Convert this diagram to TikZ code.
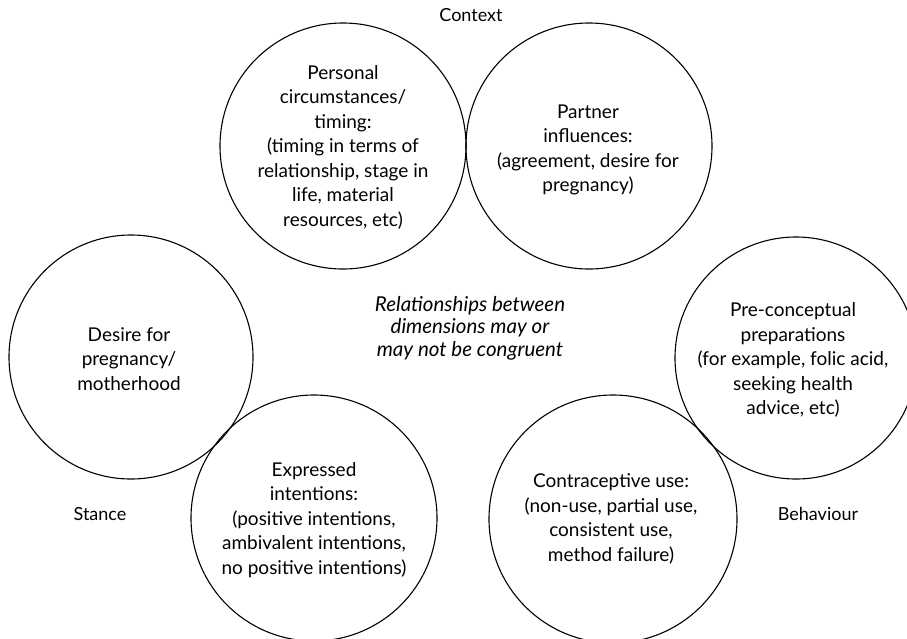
\documentclass[tikz,border=0pt]{standalone}
\usepackage{fontspec}
\setmainfont{Lato}
\begin{document}
\begin{tikzpicture}[x=1pt,y=-1pt,
  circ/.style={draw=black, line width=1.1pt, circle, inner sep=0pt, minimum size=#1},
  txt/.style={align=center, font=\fontsize{19}{24.5}\selectfont},
  itxt/.style={align=center, font=\fontsize{20.5}{22.5}\selectfont\itshape},
  lbl/.style={font=\fontsize{18}{22}\selectfont}]
\useasboundingbox (0,0) rectangle (907,638);
\fill[white] (0,0) rectangle (907,638);
\begin{scope}
\clip (0,0) rectangle (907,638);
\node[circ=246pt] (c1) at (343,146) {};
\node[circ=246pt] (c2) at (589,146) {};
\node[circ=244pt] (c3) at (131,357) {};
\node[circ=242pt] (c6) at (796,358) {};
\node[circ=246pt] (c4) at (314,518) {};
\node[circ=248pt] (c5) at (613,519) {};
\end{scope}
\node[txt] (t1) at (343,147) {Personal\\circumstances/\\timing:\\(timing in terms of\\relationship, stage in\\life, material\\resources, etc)};
\node[txt] (t2) at (588,150) {Partner\\influences:\\(agreement, desire for\\pregnancy)};
\node[txt] (t3) at (129,359) {Desire for\\pregnancy/\\motherhood};
\node[txt] (t6) at (793,360) {Pre-conceptual\\preparations\\(for example, folic acid,\\seeking health\\advice, etc)};
\node[txt] (t4) at (314,520) {Expressed\\intentions:\\(positive intentions,\\ambivalent intentions,\\no positive intentions)};
\node[txt] (t5) at (611,519) {Contraceptive use:\\(non-use, partial use,\\consistent use,\\method failure)};
\node[itxt] (mid) at (470,328) {Relationships between\\dimensions may or\\may not be congruent};
\node[lbl] (ctx) at (471,15) {Context};
\node[lbl] (stance) at (100,514) {Stance};
\node[lbl] (beh) at (818,514) {Behaviour};
\end{tikzpicture}
\end{document}
